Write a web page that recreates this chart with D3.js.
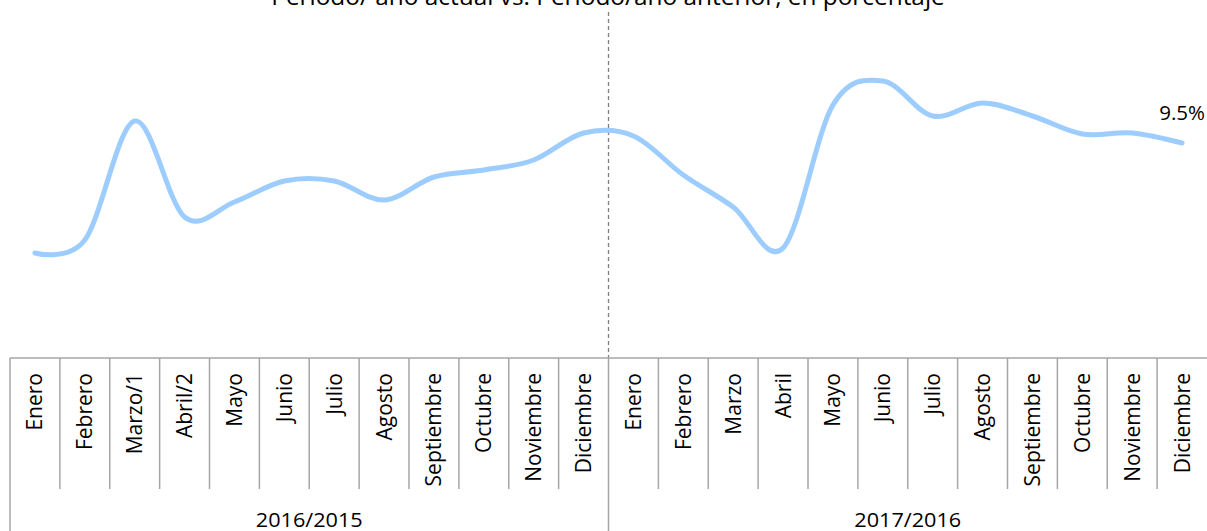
<!DOCTYPE html>
<html>
<head>
<meta charset="utf-8">
<script src="https://cdn.jsdelivr.net/npm/d3@7"></script>
<style>
  body { margin: 0; background: #fff; }
  text { font-family: "Open Sans", Lato, sans-serif; fill: #000; }
</style>
</head>
<body>
<script>
// months per group, as labelled on the x axis
var months2016 = ["Enero", "Febrero", "Marzo/1", "Abril/2", "Mayo", "Junio", "Julio",
  "Agosto", "Septiembre", "Octubre", "Noviembre", "Diciembre"]
var months2017 = ["Enero", "Febrero", "Marzo", "Abril", "Mayo", "Junio", "Julio",
  "Agosto", "Septiembre", "Octubre", "Noviembre", "Diciembre"]
var groups = ["2016/2015", "2017/2016"]

// growth in percent
var values2016 = [4.0, 4.65, 10.6, 5.8, 6.55, 7.6, 7.6, 6.65, 7.8, 8.15, 8.65, 10.0]
var values2017 = [9.85, 7.9, 6.3, 4.25, 11.4, 12.6, 10.85, 11.5, 10.85, 9.95, 10.0, 9.5]

var title = "Periodo/ año actual vs. Periodo/año anterior, en porcentaje"

var W = 1207, H = 531
var axisY = 358

var cats = months2016.map(function(m, i) {return {g: 0, m: m, v: values2016[i], key: "a" + i}})
  .concat(months2017.map(function(m, i) {return {g: 1, m: m, v: values2017[i], key: "b" + i}}))

var x = d3.scaleBand()
  .domain(cats.map(function(d) {return d.key}))
  .range([10, 1207])
  .padding(0)

var y = d3.scaleLinear().domain([0, 10]).range([333, 133])

var svg = d3.select("body").append("svg")
  .attr("width", W)
  .attr("height", H)

// title (cut off by the top edge in the original)
svg.append("text")
  .attr("x", 608)
  .attr("y", 5)
  .attr("text-anchor", "middle")
  .style("font-size", "24.4px")
  .text(title)

// dashed separator between the two periods
var mid = x("b0")
svg.append("line")
  .attr("x1", mid).attr("x2", mid)
  .attr("y1", 12).attr("y2", axisY)
  .attr("stroke", "#808080")
  .attr("stroke-width", 1.3)
  .attr("stroke-dasharray", "4,3")

// axis line and category ticks
var ax = svg.append("g").attr("class", "axis")
ax.append("line")
  .attr("x1", 10).attr("x2", W)
  .attr("y1", axisY).attr("y2", axisY)
  .attr("stroke", "#a6a6a6").attr("stroke-width", 1.5)

ax.selectAll("line.tick")
  .data(cats)
  .enter()
  .append("line")
  .attr("class", "tick")
  .attr("x1", function(d) {return x(d.key)})
  .attr("x2", function(d) {return x(d.key)})
  .attr("y1", axisY)
  .attr("y2", function(d, i) {return (i % 12 == 0) ? H : 489})
  .attr("stroke", "#a6a6a6").attr("stroke-width", 1.5)

ax.selectAll("text.month")
  .data(cats)
  .enter()
  .append("text")
  .attr("class", "month")
  .attr("transform", function(d) {
    return "translate(" + (x(d.key) + x.bandwidth() / 2 + 7.5) + "," + 373 + ") rotate(-90)"})
  .attr("text-anchor", "end")
  .style("font-size", "21px")
  .text(function(d) {return d.m})

ax.selectAll("text.group")
  .data(groups)
  .enter()
  .append("text")
  .attr("class", "group")
  .attr("x", function(d, i) {return x(i == 0 ? "a0" : "b0") + x.bandwidth() * 6})
  .attr("y", 527)
  .attr("text-anchor", "middle")
  .style("font-size", "20px")
  .attr("textLength", 107)
  .attr("lengthAdjust", "spacingAndGlyphs")
  .text(function(d) {return d})

// the smoothed line
var line = d3.line()
  .x(function(d) {return x(d.key) + x.bandwidth() / 2})
  .y(function(d) {return y(d.v)})
  .curve(d3.curveCatmullRom.alpha(0))

svg.append("path")
  .datum(cats)
  .attr("d", line)
  .attr("fill", "none")
  .attr("stroke", "#9dcdff")
  .attr("stroke-width", 5)
  .attr("stroke-linecap", "round")

// last value label
var last = cats[cats.length - 1]
svg.append("text")
  .attr("x", x(last.key) + x.bandwidth() / 2)
  .attr("y", y(last.v) - 23)
  .attr("text-anchor", "middle")
  .style("font-size", "20.5px")
  .text(last.v.toFixed(1) + "%")
</script>
</body>
</html>
